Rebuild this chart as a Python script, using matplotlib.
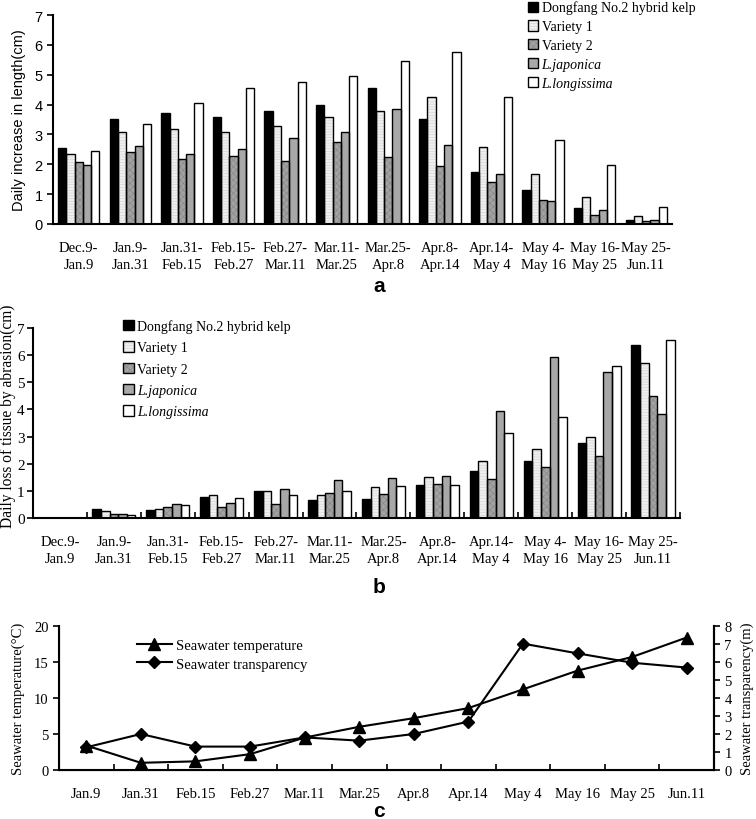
import numpy as np
import matplotlib
matplotlib.use("Agg")
import matplotlib.pyplot as plt
from matplotlib.patches import Patch, Rectangle
from matplotlib.lines import Line2D
from matplotlib.legend_handler import HandlerBase

# ---------------- data ----------------
periods = ["Dec.9-\nJan.9", "Jan.9-\nJan.31", "Jan.31-\nFeb.15", "Feb.15-\nFeb.27",
           "Feb.27-\nMar.11", "Mar.11-\nMar.25", "Mar.25-\nApr.8", "Apr.8-\nApr.14",
           "Apr.14-\nMay 4", "May 4-\nMay 16", "May 16-\nMay 25", "May 25-\nJun.11"]
series_names = ["Dongfang No.2 hybrid kelp", "Variety 1", "Variety 2",
                "L.japonica", "L.longissima"]
italic_series = [False, False, False, True, True]

# panel a: daily increase in length (cm)
growth_dongfang = [2.56, 3.53, 3.71, 3.57, 3.79, 3.97, 4.54, 3.52, 1.74, 1.15, 0.54, 0.14]
growth_var1     = [2.35, 3.07, 3.19, 3.07, 3.27, 3.58, 3.78, 4.24, 2.58, 1.66, 0.91, 0.26]
growth_var2     = [2.07, 2.41, 2.19, 2.27, 2.11, 2.74, 2.25, 1.94, 1.42, 0.80, 0.31, 0.10]
growth_japonica = [1.96, 2.61, 2.35, 2.51, 2.87, 3.09, 3.86, 2.66, 1.68, 0.77, 0.48, 0.12]
growth_longiss  = [2.44, 3.36, 4.04, 4.55, 4.76, 4.96, 5.45, 5.77, 4.24, 2.81, 1.97, 0.58]

# panel b: daily loss of tissue by abrasion (cm)
loss_dongfang = [0.0, 0.32, 0.28, 0.79, 0.98, 0.66, 0.71, 1.23, 1.73, 2.09, 2.75, 6.39]
loss_var1     = [0.0, 0.27, 0.34, 0.85, 0.98, 0.86, 1.13, 1.50, 2.10, 2.54, 3.00, 5.71]
loss_var2     = [0.0, 0.15, 0.40, 0.39, 0.50, 0.91, 0.88, 1.24, 1.44, 1.87, 2.28, 4.50]
loss_japonica = [0.0, 0.15, 0.50, 0.55, 1.08, 1.41, 1.49, 1.55, 3.94, 5.95, 5.39, 3.83]
loss_longiss  = [0.0, 0.12, 0.47, 0.75, 0.86, 0.98, 1.18, 1.20, 3.14, 3.72, 5.61, 6.57]

# panel c: environment
dates = ["Jan.9", "Jan.31", "Feb.15", "Feb.27", "Mar.11", "Mar.25", "Apr.8",
         "Apr.14", "May 4", "May 16", "May 25", "Jun.11"]
temperature  = [3.4, 1.0, 1.2, 2.2, 4.5, 6.0, 7.2, 8.6, 11.2, 13.8, 15.7, 18.4]
transparency = [1.26, 2.0, 1.30, 1.30, 1.81, 1.63, 2.0, 2.69, 7.02, 6.48, 5.96, 5.69]

# ---------------- styling ----------------
SERIF = "Liberation Serif"
SANS = "Liberation Sans"
plt.rcParams["hatch.linewidth"] = 0.4
bar_faces   = ["black", "#efefef", "#a2a2a2", "#a8a8a8", "white"]
bar_hatches = [None, "------", "xxxxx", None, None]
hatch_cols  = ["black", "#d2d2d2", "#858585", "#a8a8a8", "white"]

fig = plt.figure(figsize=(7.56, 8.2), dpi=100)
W, H = 756.0, 820.0

def axrect(x0, y_top, x1, y_bot):
    return [x0 / W, 1 - y_bot / H, (x1 - x0) / W, (y_bot - y_top) / H]

def draw_bars(ax, data):
    x = np.arange(len(periods))
    bw = 0.16
    for i, vals in enumerate(data):
        xs = x + (i - 2) * bw
        ax.bar(xs, vals, width=bw, color=bar_faces[i], edgecolor=hatch_cols[i],
               hatch=bar_hatches[i], linewidth=0, zorder=3)
        ax.bar(xs, vals, width=bw, color="none", edgecolor="black",
               linewidth=1.0, zorder=4)
    ax.set_xlim(-0.5, len(periods) - 0.5)
    ax.set_ylim(0, 7)
    ax.set_yticks(range(0, 8))
    ax.set_xticks(x)
    ax.spines["top"].set_visible(False)
    ax.spines["right"].set_visible(False)
    for s in ["left", "bottom"]:
        ax.spines[s].set_linewidth(1.5)
        ax.spines[s].set_zorder(5)

class HatchBoxHandler(HandlerBase):
    def __init__(self, idx):
        super().__init__()
        self.idx = idx

    def create_artists(self, legend, orig_handle, xdescent, ydescent, width, height,
                       fontsize, trans):
        i = self.idx
        r1 = Rectangle((-xdescent, -ydescent), width, height, facecolor=bar_faces[i],
                       edgecolor=hatch_cols[i], hatch=bar_hatches[i], linewidth=0,
                       transform=trans)
        r2 = Rectangle((-xdescent, -ydescent), width, height, facecolor="none",
                       edgecolor="black", linewidth=1.0, transform=trans)
        return [r1, r2]

def add_bar_legend(ax, anchor, size, spacing):
    handles = [Patch(facecolor=c) for c in bar_faces]
    hmap = {h: HatchBoxHandler(i) for i, h in enumerate(handles)}
    leg = ax.legend(handles, series_names, loc="upper left", bbox_to_anchor=anchor,
                    frameon=False, prop={"family": SERIF, "size": size},
                    handlelength=0.75, handleheight=0.75, handletextpad=0.25,
                    labelspacing=spacing, borderaxespad=0, handler_map=hmap)
    for txt, it in zip(leg.get_texts(), italic_series):
        if it:
            txt.set_fontstyle("italic")
    return leg

# ---------- panel a ----------
axa = fig.add_axes(axrect(53, 16, 672, 225))
draw_bars(axa, [growth_dongfang, growth_var1, growth_var2, growth_japonica, growth_longiss])
axa.set_xticklabels(periods, fontfamily=SERIF, fontsize=10.5, linespacing=1.45)
axa.tick_params(axis="x", length=0, pad=12)
axa.tick_params(axis="y", direction="out", length=4, width=1.2, labelsize=10.5)
for t in axa.get_yticklabels():
    t.set_fontfamily(SANS)
axa.set_ylabel("Daily increase in length(cm)", fontfamily=SANS, fontsize=10.5, labelpad=6)
add_bar_legend(axa, (0.758, 1.095), 10, 0.42)
fig.text(379 / W, 1 - 287 / H, "a", fontfamily=SANS, fontweight="bold", fontsize=15,
         ha="center", va="center")

# ---------- panel b ----------
axb = fig.add_axes(axrect(33, 329, 680, 519))
draw_bars(axb, [loss_dongfang, loss_var1, loss_var2, loss_japonica, loss_longiss])
axb.set_xticklabels(periods, fontfamily=SERIF, fontsize=10.5, linespacing=1.45)
axb.set_xticks(np.arange(0.5, len(periods), 1.0), minor=True)
axb.tick_params(axis="x", which="major", length=0, pad=12)
axb.tick_params(axis="x", which="minor", direction="in", length=4, width=1.2)
axb.tick_params(axis="y", direction="out", length=4, width=1.2, labelsize=11, pad=2)
for t in axb.get_yticklabels():
    t.set_fontfamily(SERIF)
axb.set_ylabel("Daily loss of tissue by abrasion(cm)", fontfamily=SERIF, fontsize=11.2,
               labelpad=0, va="center")
axb.yaxis.set_label_coords(-0.038, 0.54)
add_bar_legend(axb, (0.131, 1.075), 10, 0.6)
fig.text(379 / W, 1 - 588 / H, "b", fontfamily=SANS, fontweight="bold", fontsize=15,
         ha="center", va="center")

# ---------- panel c ----------
axc = fig.add_axes(axrect(59, 627, 714, 771))
xc = np.arange(len(dates))
axc.plot(xc, temperature, color="black", linewidth=1.5, marker="^", markersize=8.5,
         zorder=3)
axc.set_ylim(0, 20)
axc.set_yticks([0, 5, 10, 15, 20])
axc.set_xlim(-0.5, len(dates) - 0.5)
axc.set_xticks(xc)
axc.set_xticklabels(dates, fontfamily=SERIF, fontsize=10.5)
axc.set_xticks(np.arange(0.5, len(dates), 1.0), minor=True)
axc.tick_params(axis="x", which="major", length=0, pad=12)
axc.tick_params(axis="x", which="minor", direction="in", length=4, width=1.2)
axc.tick_params(axis="y", direction="out", length=4, width=1.2, labelsize=10.5)
for t in axc.get_yticklabels():
    t.set_fontfamily(SERIF)
axc.set_ylabel("Seawater temperature(\u00b0C)", fontfamily=SERIF, fontsize=10.5, labelpad=6)
axc.spines["top"].set_visible(False)
for s in ["left", "bottom", "right"]:
    axc.spines[s].set_linewidth(1.5)

axc2 = axc.twinx()
axc2.plot(xc, transparency, color="black", linewidth=1.5, marker="D", markersize=6.5,
          zorder=3)
axc2.set_ylim(0, 8)
axc2.set_yticks(range(0, 9))
axc2.tick_params(axis="y", direction="out", length=4, width=1.2, labelsize=10.5)
for t in axc2.get_yticklabels():
    t.set_fontfamily(SERIF)
axc2.set_ylabel("Seawater transparency(m)", fontfamily=SERIF, fontsize=10.5, labelpad=6)
axc2.spines["top"].set_visible(False)
axc2.spines["right"].set_linewidth(1.5)

handles_c = [Line2D([0], [0], color="black", linewidth=1.5, marker="^", markersize=8.5),
             Line2D([0], [0], color="black", linewidth=1.5, marker="D", markersize=6.5)]
axc.legend(handles_c, ["Seawater temperature", "Seawater transparency"], loc="upper left",
           bbox_to_anchor=(0.11, 0.95), frameon=False,
           prop={"family": SERIF, "size": 10.5}, handlelength=2.4, handletextpad=0.3,
           labelspacing=0.35, borderaxespad=0)
fig.text(379 / W, 1 - 812 / H, "c", fontfamily=SANS, fontweight="bold", fontsize=15,
         ha="center", va="center")

fig.savefig("out.png", dpi=100)
